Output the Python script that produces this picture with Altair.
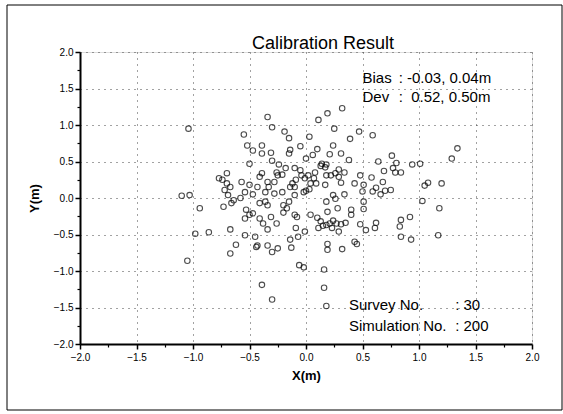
import altair as alt
import pandas as pd

x_vals = [
    -1.04, -1.10, -1.03, -0.94, -0.98, -0.86, -1.05,
    0.32, 0.19, 0.11, -0.34, -0.30, 0.25, 0.47, 0.59, 0.39, -0.19, -0.15, 0.03,
    -0.55, -0.52, -0.47, -0.39, -0.39, -0.31, -0.14, -0.15, -0.05, 0.10, 0.06,
    0.00, 0.24, 0.21, 0.31, 0.38, -0.30, -0.24, -0.18, -0.21, -0.26, -0.10,
    0.14, 0.18, 0.17, 0.29, 0.34, 0.29, 0.31, 0.64, 0.76, 0.80, 0.77, 0.79,
    0.84, 0.69, 0.94, 1.01, 1.29, 1.34, 1.08, 1.05, 1.20, 1.03, 1.18, 1.17,
    0.92, 0.84, 0.83, 0.84, 0.93, 0.68, 0.70, 0.75, 0.62, 0.59, 0.58, 0.48,
    0.43, 0.51, 0.50, 0.51, 0.51, 0.48, 0.53, 0.61, 0.62, 0.43, 0.45, 0.32,
    0.40, 0.40, 0.28, 0.26, 0.34, 0.24, 0.18, 0.19, 0.17, 0.22, 0.18, 0.09,
    0.04, 0.07, 0.02, -0.01, -0.04, -0.09, -0.12, -0.10, -0.02, 0.03, -0.10,
    0.10, 0.13, 0.15, 0.11, 0.18, 0.21, 0.24, 0.27, 0.31, 0.23, 0.29, 0.19,
    0.19, -0.01, -0.07, -0.06, -0.02, 0.16, 0.16, 0.18, -0.39, -0.30,
    -0.67, -0.62, -0.67, -0.54, -0.45, -0.44, -0.43, -0.34, -0.30, -0.25,
    -0.14, -0.13, -0.09, -0.10, -0.08, -0.17, -0.20, -0.15, -0.26, -0.31,
    -0.34, -0.38, -0.41, -0.34, -0.36, -0.41, -0.47, -0.53, -0.54, -0.50,
    -0.64, -0.66, -0.69, -0.73, -0.72, -0.67, -0.70, -0.77, -0.70, -0.74,
    -0.57, -0.54, -0.50, -0.47, -0.43, -0.41, -0.39, -0.34, -0.33, -0.28,
    -0.36, -0.21, -0.14, -0.25, 0.04, -0.50,
    0.13, 0.26, -0.05, 0.08, -0.28, 0.35, -0.58, 0.66, -0.20, 0.00,
]
y_vals = [
    0.95, 0.03, 0.04, -0.14, -0.49, -0.47, -0.86,
    1.23, 1.16, 1.07, 1.11, 0.97, 0.95, 0.91, 0.86, 0.81, 0.91, 0.82, 0.84,
    0.87, 0.72, 0.65, 0.72, 0.61, 0.62, 0.66, 0.61, 0.71, 0.67, 0.59,
    0.54, 0.72, 0.60, 0.61, 0.52, 0.51, 0.46, 0.41, 0.32, 0.35, 0.41,
    0.47, 0.46, 0.42, 0.39, 0.35, 0.29, 0.21, 0.50, 0.58, 0.48, 0.41, 0.35,
    0.35, 0.37, 0.46, 0.47, 0.54, 0.68, 0.21, 0.17, 0.20, -0.04, -0.14, -0.51,
    -0.26, -0.30, -0.39, -0.53, -0.57, 0.22, 0.10, 0.11, 0.14, 0.09, 0.28, 0.31,
    0.20, 0.18, 0.09, -0.05, -0.15, -0.36, -0.44, -0.41, -0.34, -0.60, -0.63, -0.70,
    -0.16, -0.23, -0.14, -0.01, 0.05, 0.04, -0.05, -0.19, 0.18, 0.31, 0.31, 0.20,
    0.20, 0.27, 0.31, 0.27, 0.31, 0.25, 0.20, 0.15, 0.08, 0.12, 0.04,
    -0.27, -0.32, -0.38, -0.41, -0.37, -0.35, -0.31, -0.35, -0.36, -0.41, -0.46, -0.63,
    -0.71, -0.46, -0.53, -0.92, -0.95, -0.98, -1.23, -1.48, -1.19, -1.39,
    -0.76, -0.64, -0.43, -0.51, -0.53, -0.67, -0.65, -0.65, -0.74, -0.69,
    -0.57, -0.68, -0.41, -0.23, -0.26, -0.14, -0.10, -0.05, -0.35, -0.26,
    -0.43, -0.35, -0.28, -0.10, -0.05, -0.07, -0.21, -0.16, -0.28, -0.23,
    -0.03, -0.07, 0.04, -0.12, 0.11, 0.15, 0.20, 0.27, 0.34, 0.25,
    0.22, 0.08, 0.18, 0.05, 0.15, 0.29, 0.34, 0.22, 0.15, 0.06,
    0.08, 0.08, 0.15, 0.31, -0.23, 0.47,
    0.44, 0.34, 0.38, 0.35, 0.22, -0.34, 0.00, 0.05, -0.20, 0.10,
]

tick_values = [-2.0, -1.5, -1.0, -0.5, 0.0, 0.5, 1.0, 1.5, 2.0]
minor_tick_values = [-1.75, -1.25, -0.75, -0.25, 0.25, 0.75, 1.25, 1.75]

title_text = "Calibration Result"
stat_labels = ["Bias", "Dev"]
stat_values = [":\u00a0-0.03, 0.04m", ":\u00a0\u00a00.52, 0.50m"]
stat_x = [0.50, 0.82]
stat_y = [1.64, 1.38]
run_labels = ["Survey No.", "Simulation No."]
run_values = [": 30", ": 200"]
run_x = [0.38, 1.32]
run_y = [-1.47, -1.75]

FONT = "Liberation Sans"

pts = pd.DataFrame({"x": x_vals, "y": y_vals})

xscale = alt.Scale(domain=[-2, 2], nice=False, zero=False)
yscale = alt.Scale(domain=[-2, 2], nice=False, zero=False)

common_axis = dict(values=tick_values, format=".1f", grid=True,
                   gridDash=[1, 5], gridColor="#444", gridWidth=1,
                   domainColor="black", domainWidth=2, tickColor="black",
                   tickSize=5, tickWidth=1.5, labelFont=FONT, labelFontSize=10,
                   labelColor="black", titleFont=FONT, titleFontSize=13,
                   titleFontWeight="bold", titleColor="black", labelFlush=False)
xaxis = alt.Axis(title="X(m)", orient="bottom", labelPadding=3, titlePadding=7, **common_axis)
yaxis = alt.Axis(title="Y(m)", orient="left", labelPadding=2, titlePadding=12, **common_axis)

minor_axis = dict(values=minor_tick_values, grid=False, labels=False, domain=False,
                  title=None, tickColor="black", tickSize=3, tickWidth=1.2)

points = alt.Chart(pts).mark_point(
    shape="circle", filled=False, size=30, strokeWidth=1.1, color="black"
).encode(
    x=alt.X("x:Q", scale=xscale, axis=xaxis),
    y=alt.Y("y:Q", scale=yscale, axis=yaxis),
)

minor = alt.Chart(pts).mark_point(opacity=0).encode(
    x=alt.X("x:Q", scale=xscale, axis=alt.Axis(orient="bottom", **minor_axis)),
    y=alt.Y("y:Q", scale=yscale, axis=alt.Axis(orient="left", **minor_axis)),
)

stat_df = pd.DataFrame({"label": stat_labels, "value": stat_values,
                        "y": stat_y, "xl": [stat_x[0]] * 2, "xv": [stat_x[1]] * 2})
run_df = pd.DataFrame({"label": run_labels, "value": run_values,
                       "y": run_y, "xl": [run_x[0]] * 2, "xv": [run_x[1]] * 2})
notes = pd.concat([stat_df, run_df], ignore_index=True)

note_labels = alt.Chart(notes).mark_text(
    align="left", baseline="middle", font=FONT, fontSize=15, color="black"
).encode(x=alt.X("xl:Q", scale=xscale, axis=None),
         y=alt.Y("y:Q", scale=yscale, axis=None), text="label:N")

note_values = alt.Chart(notes).mark_text(
    align="left", baseline="middle", font=FONT, fontSize=15, color="black"
).encode(x=alt.X("xv:Q", scale=xscale, axis=None),
         y=alt.Y("y:Q", scale=yscale, axis=None), text="value:N")

title_mark = alt.Chart(pd.DataFrame({"t": [title_text]})).mark_text(
    align="center", baseline="alphabetic", font=FONT, fontSize=18, color="black"
).encode(x=alt.value(243), y=alt.value(-3), text="t:N")

frame = alt.Chart(pd.DataFrame({"k": [0]})).mark_rect(
    fillOpacity=0, stroke="black", strokeWidth=1
).encode(x=alt.value(-73), x2=alt.value(482), y=alt.value(-47), y2=alt.value(358))

chart = alt.layer(frame, minor, points, note_labels, note_values, title_mark).resolve_axis(
    x="independent", y="independent"
).properties(
    width=452, height=292,
    padding={"left": 6, "top": 4, "right": 0, "bottom": 0},
).configure_view(stroke="black", strokeWidth=1.5).configure(background="white")

chart.save("out.html", embed_options={"renderer": "svg", "actions": False})
